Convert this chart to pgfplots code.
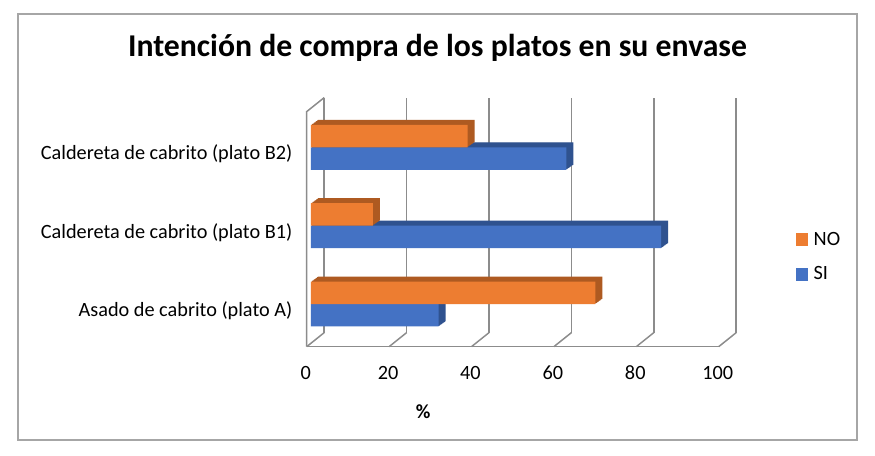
\documentclass[border=0pt]{standalone}
\usepackage{pgfplots}
\pgfplotsset{compat=1.18}
\usepackage{pgfplotstable}
\usepackage{fontspec}
\setmainfont{Carlito}
\definecolor{sib}{HTML}{4472C4}
\definecolor{sibd}{HTML}{2F528F}
\definecolor{noo}{HTML}{ED7D31}
\definecolor{nood}{HTML}{AE5A21}
\definecolor{gridc}{HTML}{8C8C8C}
\definecolor{framec}{HTML}{A6A6A6}

\pgfplotstableread{
y si no
0 31 69
1 85 15
2 62 38
}\datatab

\begin{document}
\begin{tikzpicture}[x=0.75pt,y=0.75pt]
\useasboundingbox (0,0) rectangle (875,-456);
\fill[white] (0,0) rectangle (875,-456);
\draw[framec, line width=0.9pt] (18,-14) rectangle (857,-440);
\node[font=\fontsize{23.8}{28}\selectfont\bfseries] at (437.5,-48) {Intención de compra de los platos en su envase};
\begin{axis}[
  at={(233.25pt,-228pt)}, anchor=origin,
  x=3.09pt, y=58.76pt,
  xmin=0, xmax=100, ymin=-0.5, ymax=2.5,
  axis x line*=bottom, axis y line*=left,
  axis line style={draw=none},
  major tick length=0pt,
  xtick={0,20,...,100},
  ytick={0,1,2},
  yticklabels={Asado de cabrito (plato A),Caldereta de cabrito (plato B1),Caldereta de cabrito (plato B2)},
  tick label style={font=\fontsize{15.2}{18}\selectfont},
  /pgf/number format/assume math mode=true,
  xticklabel style={anchor=center, yshift=-22pt, xshift=-4pt},
  yticklabel style={anchor=east, xshift=-10.5pt, yshift=-5pt},
  xlabel={\%},
  xlabel style={at={(axis description cs:0.272,0)}, anchor=center, yshift=-51.4pt, font=\fontsize{15}{18}\selectfont\bfseries},
  legend style={draw=none, fill=none, at={(axis description cs:1.166,0.367)}, anchor=west, font=\fontsize{15.2}{18}\selectfont, row sep=10.5pt},
  legend cell align=left,
  reverse legend,
  legend image code/.code={\fill[#1] (0pt,-4.8pt) rectangle (9.6pt,4.8pt); \path (11.5pt,0pt);},
  clip=false,
]
% 3D frame
\pgfplotsinvokeforeach{0,20,40,60,80,100}{
  \draw[gridc, line width=1.1pt] ([xshift=9.9pt,yshift=7.9pt]axis cs:#1,-0.5) -- ([xshift=9.9pt,yshift=7.9pt]axis cs:#1,2.5);
  \draw[gridc, line width=1.1pt] ([xshift=-3.2pt,yshift=-2.6pt]axis cs:#1,-0.5) -- ([xshift=9.9pt,yshift=7.9pt]axis cs:#1,-0.5);
}
\draw[gridc, line width=1.1pt] ([xshift=-3.2pt,yshift=-2.6pt]axis cs:0,-0.5) -- ([xshift=-3.2pt,yshift=-2.6pt]axis cs:100,-0.5);
\draw[gridc, line width=1.1pt] ([xshift=-3.2pt,yshift=-2.6pt]axis cs:0,-0.5) -- ([xshift=-3.2pt,yshift=-2.6pt]axis cs:0,2.5) -- ([xshift=9.9pt,yshift=7.9pt]axis cs:0,2.5);
% SI extrusion
\pgfplotsinvokeforeach{1,2,3,4,5,6,7,8}{
  \addplot[forget plot, xbar, bar width=0.287, bar shift=-0.1435, fill=sibd, draw=none, xshift=#1*0.656pt, yshift=#1*0.469pt] table[x=si,y=y]{\datatab};
}
\addplot[xbar, bar width=0.287, bar shift=-0.1435, fill=sib, draw=none] table[x=si,y=y]{\datatab};
\addlegendentry{SI}
% NO extrusion
\pgfplotsinvokeforeach{1,2,3,4,5,6,7,8}{
  \addplot[forget plot, xbar, bar width=0.287, bar shift=0.1435, fill=nood, draw=none, xshift=#1*0.656pt, yshift=#1*0.469pt] table[x=no,y=y]{\datatab};
}
\addplot[xbar, bar width=0.287, bar shift=0.1435, fill=noo, draw=none] table[x=no,y=y]{\datatab};
\addlegendentry{NO}
\end{axis}
\end{tikzpicture}
\end{document}
